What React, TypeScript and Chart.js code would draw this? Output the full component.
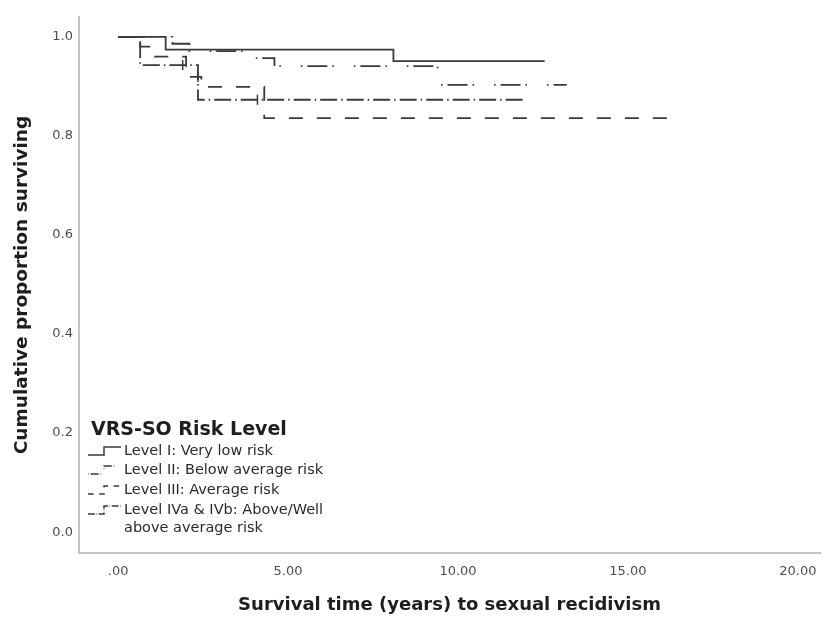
import React, { useEffect, useRef } from "react";
import { Chart, registerables } from "chart.js";

Chart.register(...registerables);

// Kaplan–Meier step points: time (years) and cumulative proportion surviving after each event
const timesLevelI = [0, 1.4, 8.1, 12.55];
const survLevelI = [1.0, 0.974, 0.951, 0.951];

const timesLevelII = [0, 1.6, 2.1, 3.9, 4.6, 9.4, 13.2];
const survLevelII = [1.0, 0.986, 0.971, 0.957, 0.941, 0.903, 0.903];

const timesLevelIII = [0, 0.65, 0.95, 2.0, 2.45, 4.3, 16.2];
const survLevelIII = [1.0, 0.98, 0.96, 0.919, 0.899, 0.836, 0.836];

const timesLevelIV = [0, 0.65, 2.35, 11.9];
const survLevelIV = [1.0, 0.943, 0.873, 0.873];

// censored cases (time, proportion)
const censorTimes = [1.9, 2.35, 4.1];
const censorSurv = [0.943, 0.919, 0.873];

const legendTitle = "VRS-SO Risk Level";
const seriesLabels = [
  ["Level I: Very low risk"],
  ["Level II: Below average risk"],
  ["Level III: Average risk"],
  ["Level IVa & IVb: Above/Well", "above average risk"],
];

const xTickValues = [0, 5, 10, 15, 20];
const yTickValues = [0, 0.2, 0.4, 0.6, 0.8, 1.0];

const LINE = "#3a3a3a";
const dashes: number[][] = [[], [1.5, 5, 20, 5, 1.5, 20], [14, 14], [17, 4, 1.5, 4]];
const FONT = "'DejaVu Sans', 'Open Sans', sans-serif";

const toPoints = (t: number[], s: number[]) => t.map((x, i) => ({ x, y: s[i] }));

const legendPlugin = {
  id: "kmLegend",
  afterDraw(chart: any) {
    const ctx = chart.ctx as CanvasRenderingContext2D;
    ctx.save();
    ctx.fillStyle = "#1e1e1e";
    ctx.font = `bold 19px ${FONT}`;
    ctx.textBaseline = "middle";
    ctx.textAlign = "left";
    ctx.fillText(legendTitle, 91, 430);
    const rows = [451, 470, 490, 510];
    ctx.font = `14.5px ${FONT}`;
    seriesLabels.forEach((lines, i) => {
      const y = rows[i];
      ctx.fillStyle = "#2a2a2a";
      lines.forEach((ln, j) => ctx.fillText(ln, 124, y + j * 18));
      // step-shaped line sample
      ctx.strokeStyle = LINE;
      ctx.lineWidth = 1.5;
      ctx.setLineDash(dashes[i].map((d) => d * 0.4));
      ctx.beginPath();
      ctx.moveTo(88, y + 4);
      ctx.lineTo(104, y + 4);
      ctx.lineTo(104, y - 4);
      ctx.lineTo(121, y - 4);
      ctx.stroke();
    });
    ctx.restore();
  },
};

export default function App() {
  const canvasRef = useRef<HTMLCanvasElement | null>(null);

  useEffect(() => {
    if (!canvasRef.current) return;
    const series = [
      toPoints(timesLevelI, survLevelI),
      toPoints(timesLevelII, survLevelII),
      toPoints(timesLevelIII, survLevelIII),
      toPoints(timesLevelIV, survLevelIV),
    ];
    const chart = new Chart(canvasRef.current, {
      type: "line",
      data: {
        datasets: [
          ...series.map((data, i) => ({
            label: seriesLabels[i].join(" "),
            data,
            stepped: "before" as const,
            borderColor: LINE,
            borderWidth: 1.8,
            borderDash: dashes[i],
            pointRadius: 0,
            fill: false,
          })),
          {
            label: "Censored",
            data: toPoints(censorTimes, censorSurv),
            showLine: false,
            pointStyle: "line" as const,
            rotation: 90,
            pointRadius: 5,
            borderColor: LINE,
            borderWidth: 1.5,
          },
        ],
      },
      options: {
        animation: false,
        responsive: true,
        maintainAspectRatio: false,
        layout: { padding: { top: 17, right: 8, left: 0, bottom: 0 } },
        plugins: { legend: { display: false }, tooltip: { enabled: false } },
        scales: {
          x: {
            type: "linear",
            min: -1.15,
            max: 20.65,
            grid: { display: false, drawTicks: false },
            border: { display: true, color: "#c4c4c4", width: 2 },
            afterBuildTicks: (scale: any) => {
              scale.ticks = xTickValues.map((value) => ({ value }));
            },
            afterFit: (scale: any) => {
              scale.height = 70;
            },
            ticks: {
              padding: 11,
              color: "#4d4d4d",
              font: { family: FONT, size: 13 },
              callback: (v: any) => (Number(v) === 0 ? ".00" : Number(v).toFixed(2)),
            },
            title: {
              display: true,
              text: "Survival time (years) to sexual recidivism",
              color: "#1e1e1e",
              font: { family: FONT, size: 18, weight: "bold" },
              padding: { top: 0, bottom: 7 },
            },
          },
          y: {
            type: "linear",
            min: -0.042,
            max: 1.04,
            grid: { display: false, drawTicks: false },
            border: { display: true, color: "#c4c4c4", width: 2 },
            afterBuildTicks: (scale: any) => {
              scale.ticks = yTickValues.map((value) => ({ value }));
            },
            afterFit: (scale: any) => {
              scale.width = 79;
            },
            ticks: {
              padding: 6,
              color: "#4d4d4d",
              font: { family: FONT, size: 13 },
              callback: (v: any) => Number(v).toFixed(1),
            },
            title: {
              display: true,
              text: "Cumulative proportion surviving",
              color: "#1e1e1e",
              font: { family: FONT, size: 18.5, weight: "bold" },
              padding: { top: 11, bottom: 0 },
            },
          },
        },
      },
      plugins: [legendPlugin],
    });
    return () => chart.destroy();
  }, []);

  return (
    <div style={{ position: "fixed", left: 0, top: 0, width: 828, height: 623, background: "#fff" }}>
      <canvas ref={canvasRef} />
    </div>
  );
}
